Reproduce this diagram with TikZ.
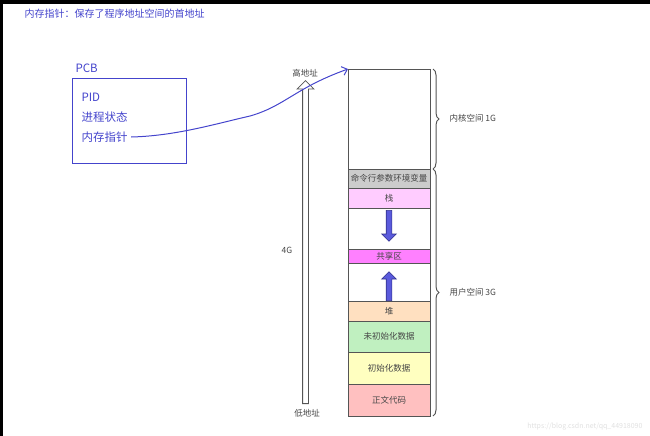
\documentclass[tikz,border=0pt]{standalone}
\usepackage{fontspec}
\setmainfont{Noto Sans CJK SC}
\usetikzlibrary{arrows.meta,shapes.arrows,decorations.pathreplacing}
\definecolor{penblue}{RGB}{68,68,204}
\definecolor{segline}{RGB}{85,85,85}
\definecolor{segtext}{RGB}{70,70,70}
\definecolor{cmdgray}{RGB}{204,204,204}
\definecolor{stackpink}{RGB}{255,204,255}
\definecolor{sharedpink}{RGB}{255,128,255}
\definecolor{heappeach}{RGB}{255,224,192}
\definecolor{bssgreen}{RGB}{192,240,192}
\definecolor{datayellow}{RGB}{255,255,192}
\definecolor{coderose}{RGB}{255,192,192}
\definecolor{arrowfill}{RGB}{90,90,220}
\definecolor{arrowline}{RGB}{50,50,140}
\tikzset{
	segbox/.style={draw=segline, line width=0.9pt, minimum width=82pt, inner sep=0pt, outer sep=0pt, anchor=north west, text=segtext, font=\fontsize{8.5}{10}\selectfont},
	pentext/.style={text=penblue, anchor=west, font=\fontsize{11.5}{13}\selectfont},
	smalltext/.style={text=segtext, font=\fontsize{8.5}{10}\selectfont},
	growarrow/.style={single arrow, draw=arrowline, fill=arrowfill, line width=0.6pt, inner sep=2.5pt, single arrow head extend=4.5pt, single arrow tip angle=90, anchor=tail},
	spanbrace/.style={decorate, decoration={brace, amplitude=6pt}, draw=segline, line width=1pt}
}
\begin{document}
\begin{tikzpicture}[x=1pt, y=-1pt]
	\useasboundingbox (0,0) rectangle (650,436);
	\fill[black] (0,0) rectangle (650,4);
	\fill[black] (0,0) rectangle (2.5,436);
	% title
	\node[text=penblue, anchor=west, font=\fontsize{10}{12}\selectfont] (title) at (21,14) {内存指针：保存了程序地址空间的首地址};
	% pcb
	\node[pentext] (pcblabel) at (72,68) {PCB};
	\node[draw=penblue, line width=1pt, minimum width=114pt, minimum height=85pt, anchor=north west] (pcb) at (72,78) {};
	\node[pentext] (pid) at (78,97) {PID};
	\node[pentext] (state) at (78,117) {进程状态};
	\node[pentext] (memptr) at (78,137) {内存指针};
	% address space
	\node[segbox, minimum height=100pt, fill=white] (kernel) at (348,69) {};
	\node[segbox, minimum height=19pt, fill=cmdgray] (cmdargs) at (kernel.south west) {命令行参数环境变量};
	\node[segbox, minimum height=20pt, fill=stackpink] (stack) at (cmdargs.south west) {栈};
	\node[segbox, minimum height=41pt, fill=white] (gapdown) at (stack.south west) {};
	\node[segbox, minimum height=14pt, fill=sharedpink] (shared) at (gapdown.south west) {共享区};
	\node[segbox, minimum height=38pt, fill=white] (gapup) at (shared.south west) {};
	\node[segbox, minimum height=20pt, fill=heappeach] (heap) at (gapup.south west) {堆};
	\node[segbox, minimum height=31pt, fill=bssgreen] (bss) at (heap.south west) {未初始化数据};
	\node[segbox, minimum height=32pt, fill=datayellow] (data) at (bss.south west) {初始化数据};
	\node[segbox, minimum height=32pt, fill=coderose] (code) at (data.south west) {正文代码};
	% growth arrows
	\node[growarrow, minimum height=31pt, shape border rotate=270] (stackgrow) at (389,210) {};
	\node[growarrow, minimum height=29pt, shape border rotate=90] (heapgrow) at (389,301) {};
	% braces
	\draw[spanbrace] ([xshift=3pt]kernel.north east) -- ([xshift=3pt]kernel.south east);
	\draw[spanbrace] ([xshift=3pt]cmdargs.north east) -- ([xshift=3pt]code.south east);
	\node[smalltext, anchor=west] (kernlabel) at (446,118) {内核空间 1G};
	\node[smalltext, anchor=west] (userlabel) at (446,292) {用户空间 3G};
	% 4G arrow
	\node[smalltext] (highaddr) at (305,73) {高地址};
	\node[smalltext] (lowaddr) at (307,413) {低地址};
	\node[smalltext] (size) at (287,250) {4G};
	\node[single arrow, draw=segline, fill=white, line width=0.8pt, inner sep=2.5pt, single arrow head extend=5.5pt, single arrow tip angle=90, minimum height=323pt, shape border rotate=90, anchor=tail] (span) at (305.5,404) {};
	% pointer
	\draw[penblue, line width=1pt, -{Straight Barb[length=5pt,width=9pt]}] (memptr.east) .. controls (175,136) and (215,124) .. (250,116) .. controls (285,106) and (295,88) .. (kernel.north west);
	\node[text=black!12, anchor=east, font=\fontsize{7}{8}\selectfont] (mark) at (646,427) {https://blog.csdn.net/qq\_44918090};
\end{tikzpicture}
\end{document}
